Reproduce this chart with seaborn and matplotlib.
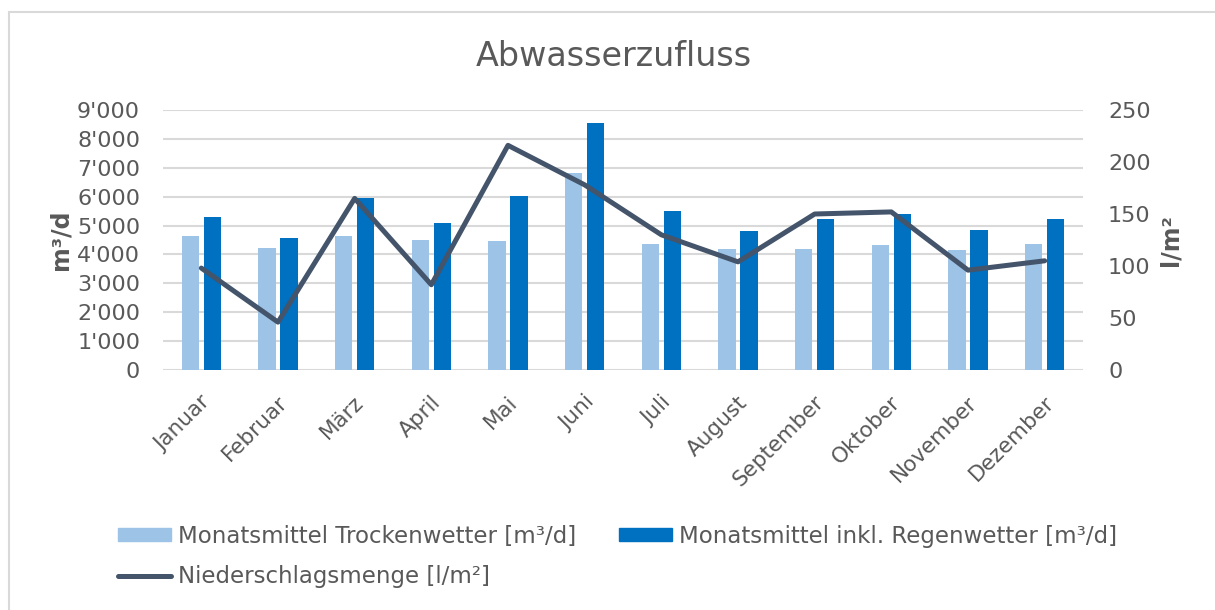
import numpy as np
import pandas as pd
import seaborn as sns
import matplotlib.pyplot as plt
from matplotlib.patches import Patch, Rectangle
from matplotlib.lines import Line2D
from matplotlib.transforms import ScaledTranslation

months = ['Januar', 'Februar', 'März', 'April', 'Mai', 'Juni', 'Juli',
          'August', 'September', 'Oktober', 'November', 'Dezember']
trocken = [4650, 4220, 4640, 4490, 4460, 6830, 4360, 4190, 4190, 4330, 4150, 4360]
regen = [5290, 4570, 5940, 5100, 6020, 8540, 5510, 4810, 5220, 5400, 4830, 5210]
niederschlag = [98, 46, 165, 82, 216, 178, 130, 104, 150, 152, 96, 105]

lbl_trocken = 'Monatsmittel Trockenwetter [m³/d]'
lbl_regen = 'Monatsmittel inkl. Regenwetter [m³/d]'
lbl_nieder = 'Niederschlagsmenge [l/m²]'

c_light = '#9DC3E6'
c_dark = '#0070C0'
c_line = '#44546A'
c_text = '#595959'
c_grid = '#D9D9D9'

df = pd.DataFrame({
    'Monat': months * 2,
    'Wert': trocken + regen,
    'Serie': [lbl_trocken] * len(months) + [lbl_regen] * len(months),
})

sns.set_style('white')
plt.rcParams['font.family'] = ['DejaVu Sans']

fig = plt.figure(figsize=(12.15, 6.1), dpi=100)
ax = fig.add_axes([163 / 1215, 1 - 370 / 610, 920 / 1215, 260 / 610])

sns.barplot(data=df, x='Monat', y='Wert', hue='Serie', order=months,
            hue_order=[lbl_trocken, lbl_regen],
            palette={lbl_trocken: c_light, lbl_regen: c_dark},
            width=0.58, gap=0.22, legend=False, ax=ax, saturation=1,
            linewidth=0)

ax.set_xlim(-0.5, len(months) - 0.5)
ax.set_ylim(0, 9000)
ax.set_yticks(np.arange(0, 9001, 1000))
ax.set_yticklabels([f"{v:,}".replace(',', "'") for v in range(0, 9001, 1000)])
ax.yaxis.grid(True, color=c_grid, lw=1.5)
ax.set_axisbelow(True)
for s in ax.spines.values():
    s.set_visible(False)
ax.tick_params(axis='y', length=0, pad=16.5, labelsize=16, labelcolor=c_text)
ax.tick_params(axis='x', length=0, pad=21, labelsize=15.5, labelcolor=c_text)
ax.set_xlabel('')
ax.set_ylabel('m³/d', fontsize=17, fontweight='bold', color=c_text)
ax.yaxis.set_label_coords(-0.098, 0.5)

for lab in ax.get_xticklabels():
    lab.set_rotation(45)
    lab.set_ha('right')
    lab.set_va('center')
    lab.set_rotation_mode('anchor')
    lab.set_transform(lab.get_transform() + ScaledTranslation(6 / 100, 0, fig.dpi_scale_trans))

ax2 = ax.twinx()
sns.lineplot(x=np.arange(len(months)), y=niederschlag, color=c_line, lw=3.6,
             ax=ax2, legend=False)
ax2.set_ylim(0, 250)
ax2.set_yticks(np.arange(0, 251, 50))
for s in ax2.spines.values():
    s.set_visible(False)
ax2.tick_params(axis='y', length=0, pad=18, labelsize=16, labelcolor=c_text)
ax2.set_ylabel('l/m²', fontsize=17, fontweight='bold', color=c_text)
ax2.yaxis.set_label_coords(1.0826, 0.5)
ax2.grid(False)

fig.suptitle('Abwasserzufluss', x=0.505, y=1 - 57 / 610, va='center',
             fontsize=24, color=c_text)

handles = [Patch(color=c_light), Line2D([], [], color=c_line, lw=3.6),
           Patch(color=c_dark)]
labels = [lbl_trocken, lbl_nieder, lbl_regen]
fig.legend(handles, labels, ncol=2, loc='upper left',
           bbox_to_anchor=(118 / 1215, 1 - 525 / 610), frameon=False,
           fontsize=16.5, labelcolor=c_text, borderpad=0, borderaxespad=0,
           handlelength=2.3, handleheight=0.5, handletextpad=0.3,
           columnspacing=1.9, labelspacing=0.75)

fig.add_artist(Rectangle((9 / 1215, -0.1), 1.2, 1 - 12 / 610 + 0.1,
                         transform=fig.transFigure, fill=False,
                         ec=c_grid, lw=1.5))

fig.savefig('out.png', dpi=100)
